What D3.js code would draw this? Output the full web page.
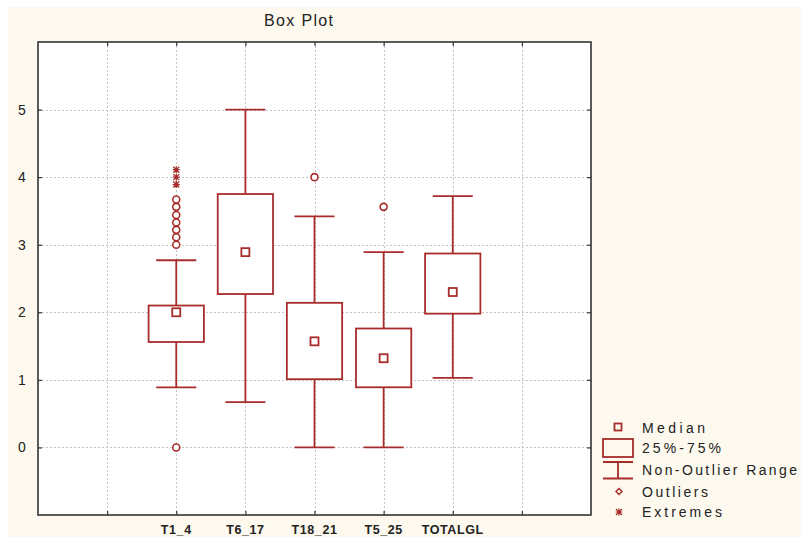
<!DOCTYPE html>
<html>
<head>
<meta charset="utf-8">
<script src="https://cdn.jsdelivr.net/npm/d3@7"></script>
<style>
  html, body { margin: 0; padding: 0; background: #ffffff; }
  svg { display: block; }
  text { font-family: "Liberation Sans", Arial, sans-serif; fill: #222; }
</style>
</head>
<body>
<svg id="chart" width="801" height="537"></svg>
<script>
// ---- data ----
const categories = ["T1_4", "T6_17", "T18_21", "T5_25", "TOTALGL"];
const whiskerLow  = [0.89, 0.67, 0.00, 0.00, 1.03];
const q1          = [1.56, 2.27, 1.01, 0.89, 1.98];
const median      = [2.00, 2.89, 1.57, 1.32, 2.30];
const q3          = [2.10, 3.75, 2.14, 1.76, 2.87];
const whiskerHigh = [2.77, 5.00, 3.42, 2.89, 3.72];
const outliers = [
  [0, 3.00, 3.11, 3.22, 3.33, 3.44, 3.56, 3.67],
  [],
  [4.00],
  [3.56],
  []
];
const extremes = [[3.89, 4.00, 4.11], [], [], [], []];
const yTicks = [0, 1, 2, 3, 4, 5];
const xGridSlots = [1, 2, 3, 4, 5, 6, 7];
const legendLabels = ["Median", "25%-75%", "Non-Outlier Range", "Outliers", "Extremes"];

// ---- layout ----
const W = 801, H = 537;
const plot = { left: 38, right: 591, top: 42, bottom: 515 };
const red = "#a82c2c";
const svg = d3.select("#chart");

svg.append("rect").attr("x", 8).attr("y", 7).attr("width", W - 8).attr("height", H - 7)
  .attr("fill", "#fdf9ee");
svg.append("rect").attr("x", plot.left).attr("y", plot.top)
  .attr("width", plot.right - plot.left).attr("height", plot.bottom - plot.top)
  .attr("fill", "#ffffff");

const x = d3.scaleLinear().domain([0, 8]).range([plot.left, plot.right]);
const y = d3.scaleLinear().domain([-1, 6]).range([plot.bottom, plot.top]);
const catPos = i => i + 2;

// gridlines
const grid = svg.append("g").attr("stroke", "#c4c4c4").attr("stroke-width", 1)
  .attr("stroke-dasharray", "2,2");
grid.selectAll("line.h").data(yTicks).join("line")
  .attr("x1", plot.left).attr("x2", plot.right)
  .attr("y1", d => Math.round(y(d)) + 0.5).attr("y2", d => Math.round(y(d)) + 0.5);
grid.selectAll("line.v").data(xGridSlots).join("line")
  .attr("y1", plot.top).attr("y2", plot.bottom)
  .attr("x1", d => Math.round(x(d)) + 0.5).attr("x2", d => Math.round(x(d)) + 0.5);

// axes (inward ticks on all sides)
const axL = d3.axisLeft(y).tickValues(yTicks).tickSize(-4).tickFormat("");
const axR = d3.axisRight(y).tickValues(yTicks).tickSize(-4).tickFormat("");
const axT = d3.axisTop(x).tickValues(xGridSlots).tickSize(-4).tickFormat("");
const axB = d3.axisBottom(x).tickValues(xGridSlots).tickSize(-4).tickFormat("");
[[axL, `translate(${plot.left},0)`], [axR, `translate(${plot.right},0)`],
 [axT, `translate(0,${plot.top})`], [axB, `translate(0,${plot.bottom})`]].forEach(([ax, tr]) => {
  const g = svg.append("g").attr("transform", tr).call(ax);
  g.selectAll("path").remove();
  g.selectAll("line").attr("stroke", "#333").attr("stroke-width", 1.2);
});
svg.append("rect").attr("x", plot.left).attr("y", plot.top)
  .attr("width", plot.right - plot.left).attr("height", plot.bottom - plot.top)
  .attr("fill", "none").attr("stroke", "#333").attr("stroke-width", 1.6);

// y labels
svg.append("g").selectAll("text").data(yTicks).join("text")
  .attr("x", 22).attr("y", d => y(d)).attr("dy", "0.36em")
  .attr("text-anchor", "middle").attr("font-size", 14).text(d => d);

// x labels
svg.append("g").selectAll("text").data(categories).join("text")
  .attr("x", (d, i) => x(catPos(i))).attr("y", 534)
  .attr("text-anchor", "middle").attr("font-size", 12.5).attr("font-weight", "bold")
  .attr("letter-spacing", "0.6px").text(d => d);

// title
svg.append("text").attr("x", 298.5).attr("y", 26).attr("text-anchor", "middle")
  .attr("font-size", 16).attr("textLength", 69).attr("lengthAdjust", "spacing").text("Box Plot");

// boxes
const boxHalf = x(0.4) - x(0);
const capHalf = x(0.29) - x(0);
const gB = svg.append("g").attr("stroke", red).attr("stroke-width", 1.8).attr("fill", "none");
categories.forEach((c, i) => {
  const cx = x(catPos(i));
  gB.append("line").attr("x1", cx).attr("x2", cx).attr("y1", y(whiskerHigh[i])).attr("y2", y(q3[i]));
  gB.append("line").attr("x1", cx).attr("x2", cx).attr("y1", y(q1[i])).attr("y2", y(whiskerLow[i]));
  gB.append("line").attr("x1", cx - capHalf).attr("x2", cx + capHalf)
    .attr("y1", y(whiskerHigh[i])).attr("y2", y(whiskerHigh[i]));
  gB.append("line").attr("x1", cx - capHalf).attr("x2", cx + capHalf)
    .attr("y1", y(whiskerLow[i])).attr("y2", y(whiskerLow[i]));
  gB.append("rect").attr("x", cx - boxHalf).attr("y", y(q3[i]))
    .attr("width", 2 * boxHalf).attr("height", y(q1[i]) - y(q3[i])).attr("fill", "#fff");
  gB.append("rect").attr("x", cx - 4).attr("y", y(median[i]) - 4)
    .attr("width", 8).attr("height", 8).attr("fill", "#fff");
  outliers[i].forEach(v => {
    gB.append("circle").attr("cx", cx).attr("cy", y(v)).attr("r", 3.5)
      .attr("fill", "#fff").attr("stroke-width", 1.6);
  });
  extremes[i].forEach(v => {
    const cy = y(v);
    gB.append("path").attr("stroke-width", 1.3)
      .attr("d", `M${cx},${cy - 3.5}V${cy + 3.5}M${cx - 3.5},${cy}H${cx + 3.5}M${cx - 3},${cy - 3}L${cx + 3},${cy + 3}M${cx - 3},${cy + 3}L${cx + 3},${cy - 3}`);
  });
});

// legend
const lg = svg.append("g");
const lgX = 618, txtX = 642;
const rowsY = [428, 448, 470, 491.5, 512];
const lengths = [63, 79, 155, 66, 80];
const ls = lg.append("g").attr("stroke", red).attr("fill", "none").attr("stroke-width", 1.8);
ls.append("rect").attr("x", lgX - 3.5).attr("y", rowsY[0] - 4.5).attr("width", 7).attr("height", 7);
ls.append("rect").attr("x", 603).attr("y", 439).attr("width", 30).attr("height", 18);
ls.append("path").attr("d", "M603,462H633M618,462V478.5M603,478.5H633");
ls.append("path").attr("stroke-width", 1.5)
  .attr("d", `M${lgX + 1},${rowsY[3] - 3}L${lgX + 4},${rowsY[3]}L${lgX + 1},${rowsY[3] + 3}L${lgX - 2},${rowsY[3]}Z`);
ls.append("path").attr("stroke-width", 1.2)
  .attr("d", `M${lgX + 1},${rowsY[4] - 3.5}V${rowsY[4] + 3.5}M${lgX - 2.5},${rowsY[4]}H${lgX + 4.5}M${lgX - 2},${rowsY[4] - 3}L${lgX + 4},${rowsY[4] + 3}M${lgX - 2},${rowsY[4] + 3}L${lgX + 4},${rowsY[4] - 3}`);
lg.selectAll("text").data(legendLabels).join("text")
  .attr("x", txtX).attr("y", (d, i) => rowsY[i]).attr("dy", "0.36em")
  .attr("font-size", 14).attr("textLength", (d, i) => lengths[i])
  .attr("lengthAdjust", "spacing").text(d => d);
</script>
</body>
</html>
